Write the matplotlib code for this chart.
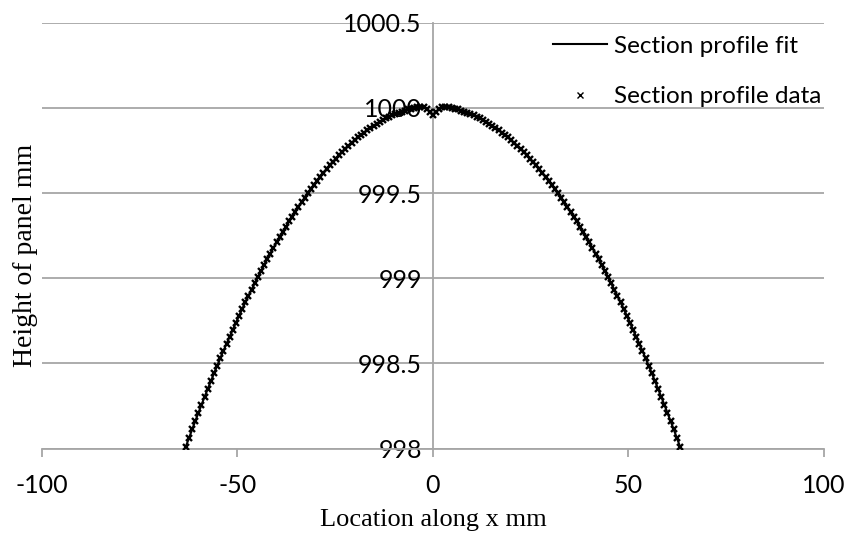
#section profile of the panel, fit and measured points

import numpy as np
import matplotlib.pyplot as plt
from matplotlib.ticker import FuncFormatter

#measured heights left of centre, x < 0 (mm)
height_left = [998.013, 998.063, 998.113, 998.162, 998.210, 998.258, 998.305, 998.351, 998.397, 998.442,
               998.486, 998.530, 998.574, 998.616, 998.658, 998.699, 998.740, 998.780, 998.819, 998.858,
               998.896, 998.934, 998.970, 999.006, 999.042, 999.077, 999.111, 999.145, 999.178, 999.210,
               999.242, 999.273, 999.303, 999.333, 999.362, 999.390, 999.418, 999.446, 999.472, 999.498,
               999.523, 999.548, 999.572, 999.595, 999.618, 999.640, 999.662, 999.682, 999.702, 999.722,
               999.741, 999.759, 999.777, 999.794, 999.810, 999.826, 999.841, 999.855, 999.869, 999.882,
               999.894, 999.906, 999.918, 999.928, 999.938, 999.947, 999.956, 999.964, 999.971, 999.978,
               999.984, 999.990, 999.994, 999.998, 1000.002, 1000.005, 1000.005, 999.995, 999.975]
#height at x = 0, the little dip
height_centre = [999.955]
#measured heights right of centre, x > 0 (mm)
height_right = [999.975, 999.995, 1000.005, 1000.005, 1000.002, 999.998, 999.994, 999.990, 999.984,
                999.978, 999.971, 999.964, 999.956, 999.947, 999.938, 999.928, 999.918, 999.906, 999.894,
                999.882, 999.869, 999.855, 999.841, 999.826, 999.810, 999.794, 999.777, 999.759, 999.741,
                999.722, 999.702, 999.682, 999.662, 999.640, 999.618, 999.595, 999.572, 999.548, 999.523,
                999.498, 999.472, 999.446, 999.418, 999.390, 999.362, 999.333, 999.303, 999.273, 999.242,
                999.210, 999.178, 999.145, 999.111, 999.077, 999.042, 999.006, 998.970, 998.934, 998.896,
                998.858, 998.819, 998.780, 998.740, 998.699, 998.658, 998.616, 998.574, 998.530, 998.486,
                998.442, 998.397, 998.351, 998.305, 998.258, 998.210, 998.162, 998.113, 998.063, 998.013]

height = height_left + height_centre + height_right
#points every 0.8 mm from -63.2 to 63.2
location = np.linspace(-63.2, 63.2, len(height))

x_ticks = [-100, -50, 0, 50, 100]
y_ticks = [998, 998.5, 999, 999.5, 1000, 1000.5]

grey = '#a6a6a6'
sans = ['Lato', 'DejaVu Sans']
serif = ['Liberation Serif', 'DejaVu Serif']

#plain hyphen for negative numbers
plt.rcParams['axes.unicode_minus'] = False

fig = plt.figure(figsize=(8.45, 5.37), dpi=100)
ax = fig.add_axes([0.0497, 0.1644, 0.9253, 0.7936])

ax.plot(location, height, color='black', lw=1.5, label='Section profile fit', zorder=3)
ax.plot(location, height, ls='none', marker='x', ms=5, mew=1.7, color='black',
        label='Section profile data', zorder=4)

ax.set_xlim(-100, 100)
ax.set_ylim(998, 1000.5)
ax.set_xticks(x_ticks)
ax.set_yticks(y_ticks)
ax.yaxis.set_major_formatter(FuncFormatter(lambda v, p: '%g' % v))

#horizontal grid only
ax.grid(axis='y', color=grey, lw=1.3)
ax.set_axisbelow(True)

#y axis sits at x = 0 like excel
for side in ['top', 'right']:
	ax.spines[side].set_visible(False)
ax.spines['left'].set_position(('data', 0))
ax.spines['left'].set_color(grey)
ax.spines['left'].set_linewidth(1.3)
ax.spines['bottom'].set_color(grey)
ax.spines['bottom'].set_linewidth(1.3)

ax.tick_params(axis='y', length=0, pad=8, labelsize=18)
ax.tick_params(axis='x', length=6, width=1.3, color=grey, direction='out', pad=12, labelsize=18)
for lab in ax.get_xticklabels() + ax.get_yticklabels():
	lab.set_family(sans)

ax.set_xlabel('Location along x mm', family=serif, fontsize=19)
ax.xaxis.set_label_coords(0.5, -0.168)
ax.xaxis.label.set_va('center')
ax.set_ylabel('Height of panel mm', family=serif, fontsize=20)
ax.yaxis.set_label_coords(-0.021, 0.454)
ax.yaxis.label.set_va('center')

leg = ax.legend(loc='upper right', bbox_to_anchor=(1.025, 1.02), frameon=False,
                prop={'family': sans, 'size': 17.5}, labelspacing=1.2,
                handlelength=2.2, handletextpad=0.3)
#legend cross is small in the reference
leg.legend_handles[1].set_markersize(4)
leg.legend_handles[1].set_markeredgewidth(1.0)

fig.savefig('out.png', dpi=100, facecolor='white')
